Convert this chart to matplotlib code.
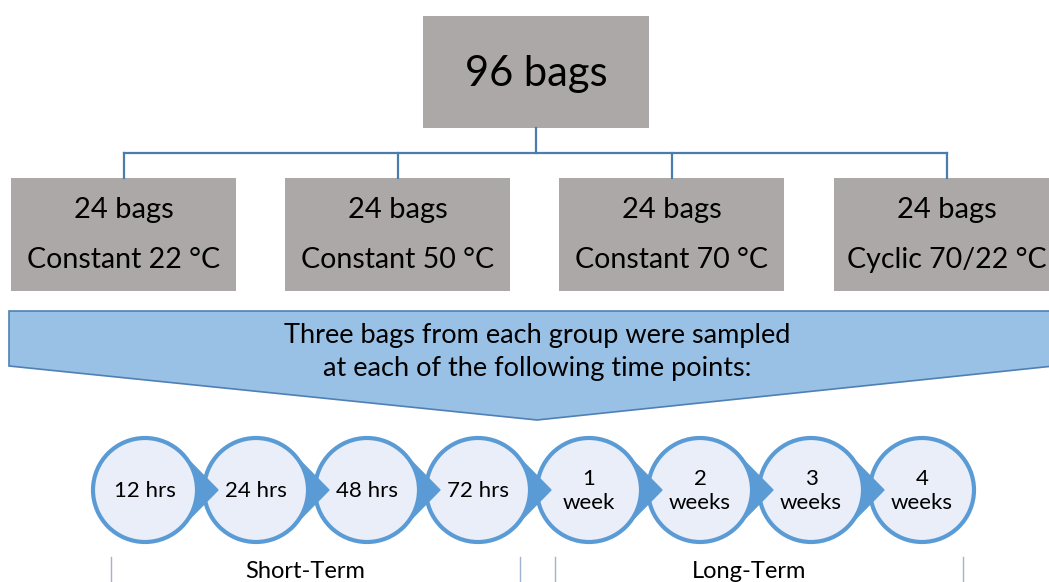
import numpy as np
import matplotlib.pyplot as plt
from matplotlib.patches import Rectangle, Circle, Polygon

plt.rcParams['font.family'] = ['Lato', 'DejaVu Sans']

top_label = "96 bags"
group_counts = ["24 bags", "24 bags", "24 bags", "24 bags"]
group_names = ["Constant 22 °C", "Constant 50 °C", "Constant 70 °C", "Cyclic 70/22 °C"]
banner_text = "Three bags from each group were sampled\nat each of the following time points:"
time_points = ["12 hrs", "24 hrs", "48 hrs", "72 hrs", "1\nweek", "2\nweeks", "3\nweeks", "4\nweeks"]
phases = ["Short-Term", "Long-Term"]

W, H = 1049, 582
fig = plt.figure(figsize=(W / 100, H / 100), dpi=100)
ax = fig.add_axes([0, 0, 1, 1])
ax.set_xlim(0, W)
ax.set_ylim(H, 0)
ax.axis('off')

gray = '#aca8a7'
line_blue = '#4a7cad'

# top box
ax.add_patch(Rectangle((423, 16), 226, 112, fc=gray, ec='none'))
ax.text(536, 74, top_label, ha='center', va='center', fontsize=30)

# connectors
box_x = [11, 285, 559, 834]
box_w = 225
centers = [x + box_w / 2 for x in box_x]
ax.plot([536, 536], [128, 153], c=line_blue, lw=1.6)
ax.plot([centers[0], centers[-1]], [153, 153], c=line_blue, lw=1.6)
for cx in centers:
    ax.plot([cx, cx], [153, 178], c=line_blue, lw=1.6)

# group boxes
for x, cnt, name in zip(box_x, group_counts, group_names):
    ax.add_patch(Rectangle((x, 178), box_w, 113, fc=gray, ec='none'))
    ax.text(x + box_w / 2, 210, cnt, ha='center', va='center', fontsize=21)
    ax.text(x + box_w / 2, 260, name, ha='center', va='center', fontsize=20.5)

# banner arrow
ax.add_patch(Polygon([(9, 311), (W + 5, 311), (W + 5, 366), (537, 420), (9, 366)],
                     closed=True, fc='#99c0e5', ec='#4f80b5', lw=1.2))
ax.text(537, 352, banner_text, ha='center', va='center', fontsize=19.5,
        linespacing=1.4)

# circle process
r = 52
cy = 490
step = 111
x0 = 145
tip = 73
circ_fill = '#e9eef8'
circ_edge = '#5b9bd5'
xs = [x0 + i * step for i in range(len(time_points))]
for cx in xs:
    ax.add_patch(Circle((cx, cy), r, fc=circ_fill, ec='none', zorder=2))
    ax.add_patch(Circle((cx, cy), r, fc='none', ec=circ_edge, lw=3, zorder=3))
th = np.arccos(r / tip)
arc = np.linspace(th, -th, 30)
for cx in xs[:-1]:
    pts = [(cx + tip, cy)] + [(cx + r * np.cos(a), cy - r * np.sin(a)) for a in arc]
    ax.add_patch(Polygon(pts, closed=True, fc=circ_edge, ec=circ_edge, lw=1, zorder=4))
for cx, lab in zip(xs, time_points):
    ax.text(cx, cy + 1, lab, ha='center', va='center', fontsize=16,
            linespacing=1.3, zorder=5)

# phase brackets
br = '#9fb4cc'
for xa, xb, lab in [(111, 520, phases[0]), (555, 963, phases[1])]:
    ax.plot([xa, xa], [557, H], c=br, lw=1)
    ax.plot([xb, xb], [557, H], c=br, lw=1)
    ax.text((xa + xb) / 2 - 10, 572, lab, ha='center', va='center', fontsize=17)

fig.savefig('out.png', dpi=100)
